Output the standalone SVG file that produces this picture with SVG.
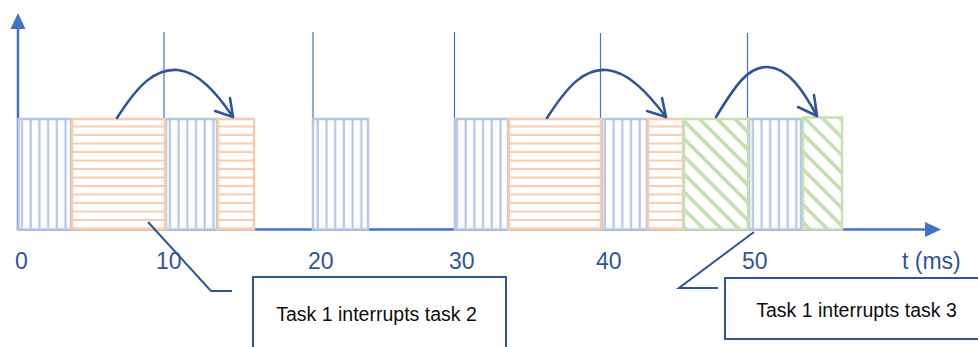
<svg xmlns="http://www.w3.org/2000/svg" width="978" height="347" viewBox="0 0 978 347">
  <style>
    .t1 { fill: url(#vstripe); stroke: #B4C7E7; stroke-width: 2.5; }
    .t2 { fill: url(#hstripe); stroke: #F8CBAD; stroke-width: 2.5; }
    .t3 { fill: url(#dstripe); stroke: #C5E0B4; stroke-width: 2.5; }
    .axis { stroke: #4472C4; stroke-width: 2.5; fill: none; }
    .grid { stroke: #4472C4; stroke-width: 1.2; }
    .jump { stroke: #2F5597; stroke-width: 2.6; fill: none; stroke-linecap: round; stroke-linejoin: round; }
    .callout { stroke: #2F5597; stroke-width: 2; fill: none; }
    .box { stroke: #2F5597; stroke-width: 2; fill: #FFFFFF; }
    .tick { font-family: "Liberation Sans", Arial, sans-serif; font-size: 23px; fill: #2F5597; }
    .label { font-family: "Liberation Sans", Arial, sans-serif; font-size: 19.5px; fill: #0D0D0D; text-anchor: middle; }
  </style>
  <defs>
    <pattern id="vstripe" patternUnits="userSpaceOnUse" x="0" y="0" width="8.7" height="10">
      <rect x="0" y="0" width="8.7" height="10" fill="#FFFFFF"/>
      <rect x="3.5" y="0" width="2.2" height="10" fill="#B4C7E7"/>
    </pattern>
    <pattern id="hstripe" patternUnits="userSpaceOnUse" x="0" y="119" width="10" height="8.5">
      <rect x="0" y="0" width="10" height="8.5" fill="#FFFFFF"/>
      <rect x="0" y="6.5" width="10" height="2" fill="#F8CBAD"/>
    </pattern>
    <pattern id="dstripe" patternUnits="userSpaceOnUse" x="0" y="0" width="12" height="12.5" patternTransform="rotate(45)">
      <rect x="0" y="0" width="12" height="12.5" fill="#FFFFFF"/>
      <rect x="0" y="0" width="12" height="3.8" fill="#C5E0B4"/>
    </pattern>
  </defs>

  <g id="axes">
    <line class="axis" x1="18" y1="230" x2="18" y2="27"/>
    <polygon points="18,13 25.5,29 10.5,29" fill="#4472C4"/>
    <line class="axis" x1="18" y1="229.5" x2="927" y2="229.5"/>
    <polygon points="941,229.5 925,222 925,237" fill="#4472C4"/>
    <line class="grid" x1="164" y1="32" x2="164" y2="119"/>
    <line class="grid" x1="313" y1="32" x2="313" y2="119"/>
    <line class="grid" x1="454.5" y1="32" x2="454.5" y2="119"/>
    <line class="grid" x1="600.5" y1="33" x2="600.5" y2="119"/>
    <line class="grid" x1="747.5" y1="33" x2="747.5" y2="119"/>
  </g>

  <g id="ticks">
    <text class="tick" x="15" y="269">0</text>
    <text class="tick" x="156" y="269">10</text>
    <text class="tick" x="308" y="269">20</text>
    <text class="tick" x="449" y="269">30</text>
    <text class="tick" x="596" y="269">40</text>
    <text class="tick" x="742" y="269">50</text>
    <text class="tick" x="902" y="269">t (ms)</text>
  </g>

  <g id="task1-blocks">
    <rect class="t1" x="18.5" y="119" width="52.5" height="110.5"/>
    <rect class="t1" x="166" y="119" width="51" height="110.5"/>
    <rect class="t1" x="313" y="119" width="55" height="110.5"/>
    <rect class="t1" x="455" y="119" width="53" height="110.5"/>
    <rect class="t1" x="602" y="119" width="45" height="110.5"/>
    <rect class="t1" x="749" y="119" width="52" height="110.5"/>
  </g>
  <g id="task2-blocks">
    <rect class="t2" x="72" y="119" width="93" height="110.5"/>
    <rect class="t2" x="218" y="119" width="36" height="110.5"/>
    <rect class="t2" x="509" y="119" width="92" height="110.5"/>
    <rect class="t2" x="648" y="119" width="35" height="110.5"/>
  </g>
  <g id="task3-blocks">
    <rect class="t3" x="684" y="119" width="64" height="110.5"/>
    <rect class="t3" x="803" y="117.5" width="39" height="112"/>
  </g>

  <g id="connectors">
    <path class="jump" d="M117,118 C138,85 155,68 178,70 C198,72 216,92 233,117"/>
    <polyline class="jump" points="215,111 233,117 230,98"/>
    <path class="jump" d="M547,118 C568,85 585,68 607,70 C628,72 647,92 666,117"/>
    <polyline class="jump" points="647,111 666,117 662,98"/>
    <path class="jump" d="M716,117 C735,86 748,66 768,67 C788,68 803,90 817,116"/>
    <polyline class="jump" points="798,107 817,116 814,95"/>
    <polyline class="callout" points="148,222 211,291 232,291"/>
    <polyline class="callout" points="754,232 679,288 718,288"/>
  </g>

  <g id="note-task2">
    <rect class="box" x="253" y="277" width="253" height="80"/>
    <text class="label" x="376.5" y="321">Task 1 interrupts task 2</text>
  </g>
  <g id="note-task3">
    <rect class="box" x="725" y="278" width="270" height="61"/>
    <text class="label" x="856.5" y="317">Task 1 interrupts task 3</text>
  </g>
</svg>
